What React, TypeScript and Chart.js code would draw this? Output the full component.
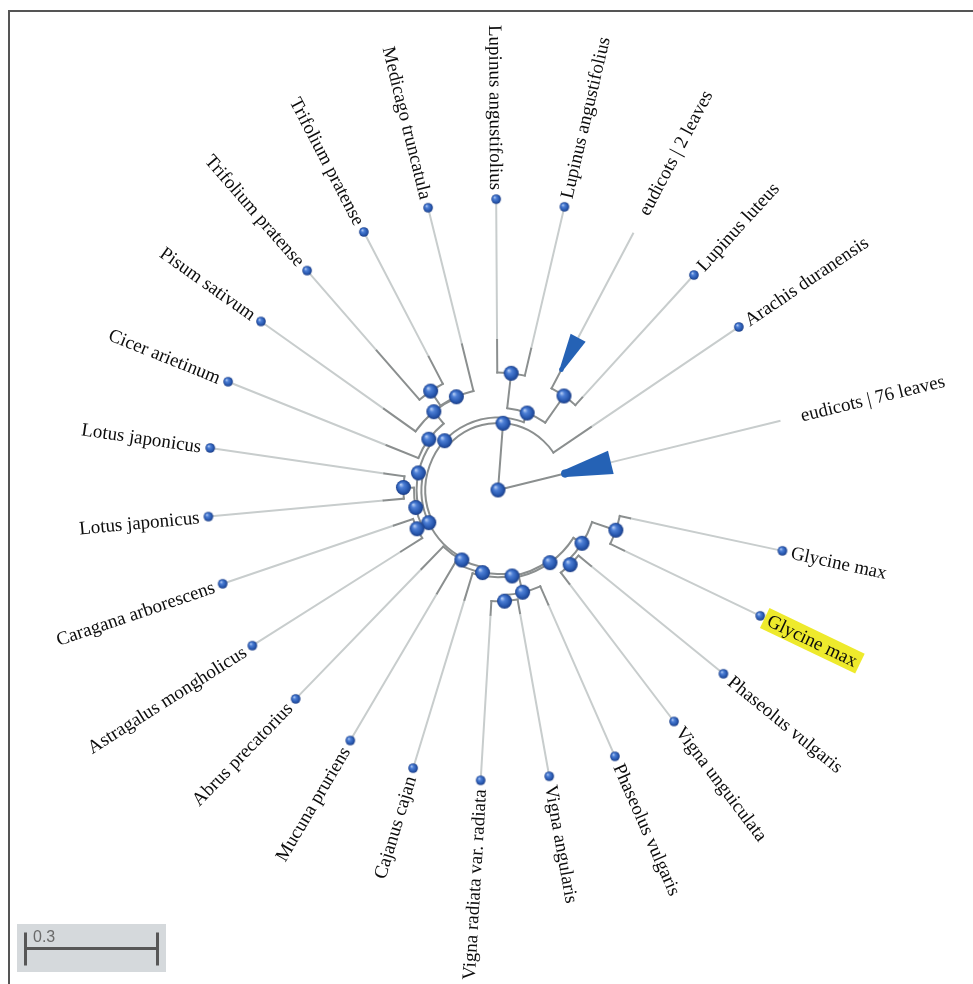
import React, { useEffect, useRef } from 'react';
import { Chart, registerables } from 'chart.js';

Chart.register(...registerables);

// ---- Tree data -------------------------------------------------------------
// Tips in clockwise order, starting just below the east axis.
const taxa = [
  'Glycine max', 'Glycine max', 'Phaseolus vulgaris', 'Vigna unguiculata', 'Phaseolus vulgaris',
  'Vigna angularis', 'Vigna radiata var. radiata', 'Cajanus cajan', 'Mucuna pruriens', 'Abrus precatorius',
  'Astragalus mongholicus', 'Caragana arborescens', 'Lotus japonicus', 'Lotus japonicus', 'Cicer arietinum',
  'Pisum sativum', 'Trifolium pratense', 'Trifolium pratense', 'Medicago truncatula', 'Lupinus angustifolius',
  'Lupinus angustifolius', 'eudicots | 2 leaves', 'Lupinus luteus', 'Arachis duranensis', 'eudicots | 76 leaves',
];
const taxonParent = [
  'G', 'G', 'Q', 'Q', 'R', 'S', 'S', 'T', 'U', 'V', 'W', 'W', 'Lj', 'Lj', 'C1',
  'PM', 'TP', 'TP', 'M', 'LA', 'LA', 'N305', 'N305', 'A', 'root',
];
// distance from the root to the end of each tip branch (substitutions / site)
const taxonDepth = [
  0.307, 0.318, 0.273, 0.268, 0.284, 0.284, 0.284, 0.261, 0.273, 0.25, 0.261, 0.25, 0.261, 0.261, 0.273,
  0.318, 0.42, 0.341, 0.341, 0.341, 0.33, 0.309, 0.284, 0.255, 0.157,
];
// number of leaves behind each tip (collapsed clades have more than one)
const cladeSize = [1, 1, 1, 1, 1, 1, 1, 1, 1, 1, 1, 1, 1, 1, 1, 1, 1, 1, 1, 1, 1, 2, 1, 1, 76];
// deepest leaf inside a collapsed clade
const cladeMaxDepth = [0, 0, 0, 0, 0, 0, 0, 0, 0, 0, 0, 0, 0, 0, 0, 0, 0, 0, 0, 0, 0, 0.391, 0, 0, 0.264];
const highlightedTaxon = 1;

// Internal nodes
const nodeIds = ['root', 'A', 'Z', 'N291', 'LA', 'N305', 'X', 'V', 'U', 'T', 'P2', 'P1', 'G', 'Q', 'R', 'S', 'Y', 'Yp', 'W', 'Lj', 'C1', 'PM', 'M', 'TP'];
const nodeParent = [null, 'root', 'A', 'Z', 'N291', 'N291', 'Z', 'X', 'V', 'U', 'T', 'P2', 'P1', 'P1', 'P2', 'R', 'X', 'Y', 'Yp', 'Yp', 'Y', 'C1', 'PM', 'M'];
const nodeDepth = [0, 0.152, 0.165, 0.187, 0.267, 0.261, 0.174, 0.179, 0.191, 0.198, 0.203, 0.226, 0.283, 0.236, 0.239, 0.253, 0.185, 0.191, 0.204, 0.215, 0.195, 0.23, 0.232, 0.272];

const scaleBarValue = 0.3;
const scaleBarLabel = '0.3';

// ---- Layout constants --------------------------------------------------------
const SWEEP_START_DEG = 5.3;
const SLOT_DEG = 13.556;
const ALIGN_DEPTH = 0.661;
const CENTER_PX = { x: 498, y: 490 };
const PX_PER_UNIT = 440;
const W = 973;
const H = 984;

const DARK = '#8b8f8f';
const LIGHT = '#c8cdcd';
const BLUE = '#2562b5';
const LABEL_FONT = '19px "Liberation Serif", "Times New Roman", serif';

const slotWidth = (size: number) => (size === 1 ? 1 : size < 10 ? 1.15 : 2);

function buildLayout() {
  const taxonAngle: number[] = [];
  let cum = 0;
  cladeSize.forEach((size) => {
    const w = slotWidth(size);
    taxonAngle.push(SWEEP_START_DEG + (cum + w / 2) * SLOT_DEG);
    cum += w;
  });
  const nodeAngle: Record<string, number> = {};
  const nodeSpan: Record<string, [number, number]> = {};
  const angleOf = (id: string): number => {
    if (id in nodeAngle) return nodeAngle[id];
    const kids: number[] = [];
    taxonParent.forEach((p, i) => { if (p === id) kids.push(taxonAngle[i]); });
    nodeParent.forEach((p, i) => { if (p === id) kids.push(angleOf(nodeIds[i])); });
    const lo = Math.min(...kids);
    const hi = Math.max(...kids);
    nodeSpan[id] = [lo, hi];
    nodeAngle[id] = (lo + hi) / 2;
    return nodeAngle[id];
  };
  nodeIds.forEach(angleOf);
  const depthOf: Record<string, number> = {};
  nodeIds.forEach((id, i) => { depthOf[id] = nodeDepth[i]; });
  return { taxonAngle, nodeAngle, nodeSpan, depthOf };
}

const rad = (deg: number) => (deg * Math.PI) / 180;
const polar = (depth: number, deg: number) => ({ x: depth * Math.cos(rad(deg)), y: -depth * Math.sin(rad(deg)) });

function makeBall(r: number) {
  const size = Math.round(r * 2) + 2;
  const c = document.createElement('canvas');
  c.width = size;
  c.height = size;
  const g = c.getContext('2d')!;
  const cx = size / 2;
  const cy = size / 2;
  const grad = g.createRadialGradient(cx - r * 0.35, cy - r * 0.4, r * 0.05, cx, cy, r);
  grad.addColorStop(0, '#b4ccf4');
  grad.addColorStop(0.3, '#4d7fd6');
  grad.addColorStop(0.75, '#2757ae');
  grad.addColorStop(1, '#1b3c84');
  g.fillStyle = grad;
  g.beginPath();
  g.arc(cx, cy, r, 0, Math.PI * 2);
  g.fill();
  return c;
}

export default function App() {
  const ref = useRef<HTMLCanvasElement>(null);

  useEffect(() => {
    const canvas = ref.current;
    if (!canvas) return;
    const L = buildLayout();

    const nodePoints = nodeIds.map((id, i) => polar(nodeDepth[i], L.nodeAngle[id]));
    const leafPoints = taxa
      .map((_, i) => i)
      .filter((i) => cladeSize[i] === 1)
      .map((i) => polar(ALIGN_DEPTH, L.taxonAngle[i]));

    const treePlugin = {
      id: 'radialTree',
      beforeDraw(chart: any) {
        const ctx = chart.ctx as CanvasRenderingContext2D;
        ctx.save();
        ctx.fillStyle = '#ffffff';
        ctx.fillRect(0, 0, chart.width, chart.height);
        // frame
        ctx.fillStyle = '#555555';
        ctx.fillRect(8, 10, 2, chart.height);
        ctx.fillRect(8, 10, chart.width, 2);
        ctx.restore();
      },
      beforeDatasetsDraw(chart: any) {
        const ctx = chart.ctx as CanvasRenderingContext2D;
        const xs = chart.scales.x;
        const ys = chart.scales.y;
        const cx = xs.getPixelForValue(0);
        const cy = ys.getPixelForValue(0);
        const k = xs.getPixelForValue(1) - cx;
        const pt = (depth: number, deg: number) => [cx + depth * k * Math.cos(rad(deg)), cy + depth * k * Math.sin(rad(deg))];
        const radial = (d0: number, d1: number, deg: number) => {
          const [x0, y0] = pt(d0, deg);
          const [x1, y1] = pt(d1, deg);
          ctx.moveTo(x0, y0);
          ctx.lineTo(x1, y1);
        };

        ctx.save();
        // alignment guides from each tip to the label ring
        ctx.strokeStyle = LIGHT;
        ctx.lineWidth = 2;
        ctx.beginPath();
        taxa.forEach((_, i) => {
          const from = cladeSize[i] > 1 ? cladeMaxDepth[i] : taxonDepth[i];
          radial(from, ALIGN_DEPTH, L.taxonAngle[i]);
        });
        ctx.stroke();

        // branches
        ctx.strokeStyle = DARK;
        ctx.lineWidth = 2;
        ctx.lineCap = 'square';
        ctx.beginPath();
        nodeIds.forEach((id, i) => {
          const p = nodeParent[i];
          if (p) radial(L.depthOf[p], nodeDepth[i], L.nodeAngle[id]);
        });
        taxa.forEach((_, i) => {
          radial(L.depthOf[taxonParent[i]], taxonDepth[i], L.taxonAngle[i]);
        });
        ctx.stroke();
        nodeIds.forEach((id, i) => {
          if (nodeDepth[i] <= 0) return;
          const [a0, a1] = L.nodeSpan[id];
          ctx.beginPath();
          ctx.arc(cx, cy, nodeDepth[i] * k, rad(a0), rad(a1));
          ctx.stroke();
        });

        // collapsed clades
        ctx.fillStyle = BLUE;
        taxa.forEach((_, i) => {
          if (cladeSize[i] <= 1) return;
          const t = rad(L.taxonAngle[i]);
          const dx = Math.cos(t);
          const dy = Math.sin(t);
          const px = -dy;
          const py = dx;
          const r0 = taxonDepth[i] * k;
          const r1 = cladeMaxDepth[i] * k;
          const h0 = 1.5 + 1.1 * Math.log10(cladeSize[i]);
          const h1 = 7.8 + 2.2 * Math.log10(cladeSize[i]);
          ctx.beginPath();
          ctx.moveTo(cx + dx * r0 + px * h0, cy + dy * r0 + py * h0);
          ctx.lineTo(cx + dx * r1 + px * h1, cy + dy * r1 + py * h1);
          ctx.lineTo(cx + dx * r1 - px * h1, cy + dy * r1 - py * h1);
          ctx.lineTo(cx + dx * r0 - px * h0, cy + dy * r0 - py * h0);
          ctx.closePath();
          ctx.fill();
          ctx.beginPath();
          ctx.arc(cx + dx * r0, cy + dy * r0, h0 + 0.5, 0, Math.PI * 2);
          ctx.fill();
        });
        ctx.restore();
      },
      afterDatasetsDraw(chart: any) {
        const ctx = chart.ctx as CanvasRenderingContext2D;
        const xs = chart.scales.x;
        const ys = chart.scales.y;
        const cx = xs.getPixelForValue(0);
        const cy = ys.getPixelForValue(0);
        const k = xs.getPixelForValue(1) - cx;
        const ring = ALIGN_DEPTH * k;

        ctx.save();
        ctx.font = LABEL_FONT;
        ctx.textBaseline = 'middle';
        taxa.forEach((name, i) => {
          const deg = L.taxonAngle[i];
          const rLabel = ring + (cladeSize[i] > 1 ? 21 : 9);
          const flip = deg > 90 && deg < 270;
          const w = ctx.measureText(name).width;
          ctx.save();
          ctx.translate(cx, cy);
          ctx.rotate(rad(deg));
          if (flip) ctx.rotate(Math.PI);
          const x0 = flip ? -rLabel - w : rLabel;
          if (i === highlightedTaxon) {
            ctx.fillStyle = '#eeea2c';
            ctx.fillRect(x0 - 4, -11, w + 8, 22);
          }
          ctx.fillStyle = '#0d0d0d';
          ctx.textAlign = 'left';
          ctx.fillText(name, x0, 1);
          ctx.restore();
        });

        // scale bar
        const len = xs.getPixelForValue(scaleBarValue) - xs.getPixelForValue(0);
        const bx = 25.5;
        const by = 948.5;
        ctx.fillStyle = '#d5d9dc';
        ctx.fillRect(17, 924, len + 17, 48);
        ctx.fillStyle = '#575757';
        ctx.fillRect(bx - 1.5, by - 16, 3, 33);
        ctx.fillRect(bx + len - 1.5, by - 16, 3, 33);
        ctx.fillRect(bx, by - 1.5, len, 3);
        ctx.fillStyle = '#6a6a6a';
        ctx.font = '16px "Liberation Sans", Arial, sans-serif';
        ctx.textAlign = 'left';
        ctx.textBaseline = 'alphabetic';
        ctx.fillText(scaleBarLabel, 33, 941.5);
        ctx.restore();
      },
    };

    const chart = new Chart(canvas, {
      type: 'scatter',
      data: {
        datasets: [
          { data: leafPoints, pointStyle: makeBall(4.8) as any, pointRadius: 5 },
          { data: nodePoints, pointStyle: makeBall(7.5) as any, pointRadius: 8 },
        ],
      },
      options: {
        animation: false,
        responsive: false,
        events: [],
        layout: { padding: 0, autoPadding: false },
        plugins: { legend: { display: false }, tooltip: { enabled: false } },
        scales: {
          x: { type: 'linear', display: false, min: -CENTER_PX.x / PX_PER_UNIT, max: (W - CENTER_PX.x) / PX_PER_UNIT },
          y: { type: 'linear', display: false, min: -(H - CENTER_PX.y) / PX_PER_UNIT, max: CENTER_PX.y / PX_PER_UNIT },
        },
      },
      plugins: [treePlugin],
    });
    return () => chart.destroy();
  }, []);

  return (
    <div style={{ position: 'fixed', left: 0, top: 0, width: W, height: H, background: '#fff' }}>
      <canvas ref={ref} width={W} height={H} style={{ display: 'block', width: W, height: H }} />
    </div>
  );
}
